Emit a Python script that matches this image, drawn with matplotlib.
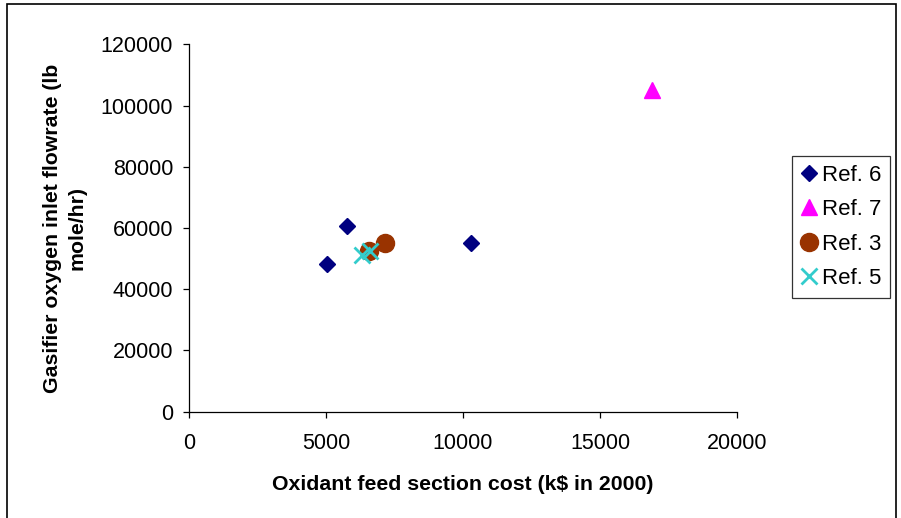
import matplotlib.pyplot as plt
from matplotlib.patches import Rectangle

plt.rcParams['font.family'] = ['Liberation Sans', 'DejaVu Sans']

# oxidant feed section cost (k$ in 2000) vs gasifier O2 inlet flow (lb mole/hr)
ref6_cost = [5050, 5770, 10300]
ref6_flow = [48400, 60800, 55000]
ref7_cost = [16900]
ref7_flow = [105000]
ref3_cost = [6570, 7140]
ref3_flow = [52600, 55200]
ref5_cost = [6300, 6610]
ref5_flow = [51200, 52600]

xticks = [0, 5000, 10000, 15000, 20000]
yticks = [0, 20000, 40000, 60000, 80000, 100000, 120000]

fig = plt.figure(figsize=(9.01, 5.18), dpi=100)
ax = fig.add_axes([189 / 901, 1 - 411.7 / 518, 548 / 901, 367.4 / 518])

ax.plot(ref6_cost, ref6_flow, 'D', color='#000080', ms=8, ls='none', label='Ref. 6')
ax.plot(ref7_cost, ref7_flow, '^', color='#FF00FF', ms=11.5, ls='none', label='Ref. 7')
ax.plot(ref3_cost, ref3_flow, 'o', color='#993300', ms=13, ls='none', label='Ref. 3')
ax.plot(ref5_cost, ref5_flow, 'x', color='#33CCCC', ms=11.5, mew=2, ls='none', label='Ref. 5')

ax.set_xlim(0, 20000)
ax.set_ylim(0, 120000)
ax.set_xticks(xticks)
ax.set_yticks(yticks)
ax.spines['top'].set_visible(False)
ax.spines['right'].set_visible(False)
for s in ('left', 'bottom'):
    ax.spines[s].set_linewidth(0.9)
ax.tick_params(direction='out', length=4.5, width=0.9, labelsize=15.5)
ax.tick_params(axis='y', pad=7)
ax.tick_params(axis='x', pad=11)

ax.set_xlabel('Oxidant feed section cost (k$ in 2000)', fontsize=15.3,
              fontweight='bold', labelpad=15)
ax.set_ylabel('Gasifier oxygen inlet flowrate (lb\nmole/hr)', fontsize=15.3,
              fontweight='bold', labelpad=10, linespacing=1.35)

leg = ax.legend(loc='upper left', bbox_to_anchor=(792 / 901, 1 - 156 / 518),
                bbox_transform=fig.transFigure, fontsize=16, frameon=True,
                fancybox=False, edgecolor='black', handlelength=0.7,
                handletextpad=0.25, borderpad=0.4, labelspacing=0.6,
                borderaxespad=0)
leg.get_frame().set_linewidth(0.9)

# outer chart border
fig.patches.append(Rectangle((7 / 901, -0.1), 889 / 901, 1.1 - 4 / 518,
                             transform=fig.transFigure, fill=False,
                             edgecolor='black', linewidth=1.2))

fig.savefig('out.png', dpi=100)
